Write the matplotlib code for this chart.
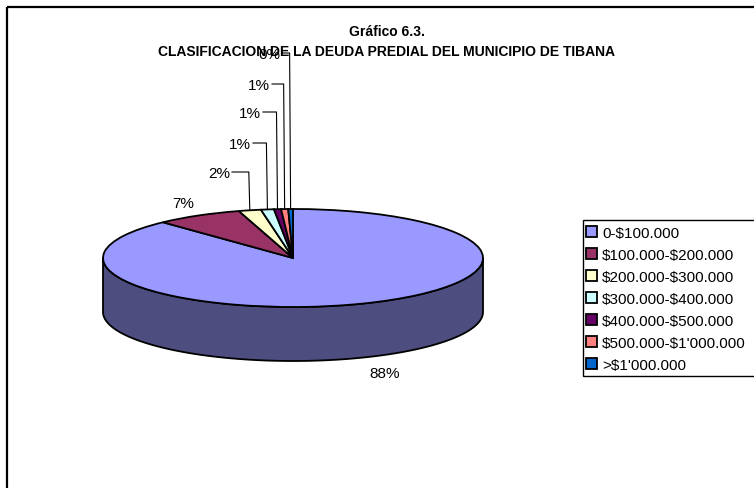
import matplotlib
matplotlib.use('Agg')
import matplotlib.pyplot as plt
import numpy as np
from matplotlib.patches import Wedge, Polygon, Rectangle
from matplotlib.transforms import Affine2D

plt.rcParams['font.family'] = ['Liberation Sans', 'DejaVu Sans']
plt.rcParams['text.parse_math'] = False

rangos = ['0-$100.000', '$100.000-$200.000', '$200.000-$300.000', '$300.000-$400.000',
          '$400.000-$500.000', "$500.000-$1'000.000", ">$1'000.000"]
porcentajes = [88.0, 7.4, 1.9, 1.1, 0.6, 0.6, 0.4]
colores = ['#9999FF', '#993366', '#FFFFCC', '#CCFFFF', '#660066', '#FF8080', '#0066CC']

titulo1 = 'Gráfico 6.3.'
titulo2 = 'CLASIFICACION DE LA DEUDA PREDIAL DEL MUNICIPIO DE TIBANA'

fig = plt.figure(figsize=(7.54, 4.89), dpi=100)
ax = fig.add_axes([0, 0, 1, 1])
ax.set_xlim(0, 754)
ax.set_ylim(489, 0)
ax.axis('off')

# marco del grafico (solo se ve arriba y a la izquierda)
ax.plot([7, 760], [8, 8], color='black', lw=1.6, solid_capstyle='butt')
ax.plot([7, 7], [8, 495], color='black', lw=1.6, solid_capstyle='butt')

ax.text(387, 32, titulo1, ha='center', va='center', fontsize=10, fontweight='bold')
ax.text(387, 52, titulo2, ha='center', va='center', fontsize=10, fontweight='bold')

# torta 3D: elipse superior + lateral
cx, cy, rx, ry, prof = 293, 259, 190, 49, 54
fr = np.array(porcentajes) / sum(porcentajes)
fin = -90 + 360 * np.cumsum(fr)
inicio = np.concatenate([[-90], fin[:-1]])
elipse = Affine2D().scale(rx, ry).translate(cx, cy) + ax.transData

for t1, t2, c in zip(inicio, fin, colores):
    a, b = max(t1, 0), min(t2, 180)
    if b > a:
        t = np.radians(np.linspace(a, b, 120))
        arriba = np.column_stack([cx + rx * np.cos(t), cy + ry * np.sin(t)])
        abajo = arriba[::-1] + [0, prof]
        oscuro = tuple(0.5 * np.array(matplotlib.colors.to_rgb(c)))
        ax.add_patch(Polygon(np.vstack([arriba, abajo]), closed=True, fc=oscuro,
                             ec='black', lw=1.3, joinstyle='round'))

cunas = []
for t1, t2, c in zip(inicio, fin, colores):
    w = Wedge((0, 0), 1, t1, t2, transform=elipse, fc=c, ec='black', lw=1.3)
    ax.add_patch(w)
    cunas.append(w)

# etiquetas de porcentaje
medio = np.radians((inicio + fin) / 2)
textos = ['%.0f%%' % p for p in porcentajes]
ax.text(385, 374, textos[0], ha='center', va='center', fontsize=11)
ax.text(183, 204, textos[1], ha='center', va='center', fontsize=11)
linea_y = [173, 144, 113, 85, 54]
linea_x = [232, 253, 263, 272, 282]
for k in range(2, len(porcentajes)):
    y0 = linea_y[k - 2]
    x0 = linea_x[k - 2]
    px = cx + rx * np.cos(medio[k])
    py = cy + ry * np.sin(medio[k])
    ax.plot([x0, px - 1, px], [y0, y0, py], color='black', lw=0.8)
    ax.text(x0 - 2, y0 + 1, textos[k], ha='right', va='center', fontsize=11)

# leyenda (el recuadro se sale por la derecha)
ax.add_patch(Rectangle((583, 221), 200, 156, fc='none', ec='black', lw=1.0))
ley = ax.legend(cunas, rangos, loc='upper left', bbox_to_anchor=(586 / 754, 1 - 227 / 489),
                bbox_transform=fig.transFigure, fontsize=11, frameon=False,
                handlelength=0.72, handleheight=0.72, handletextpad=0.33, labelspacing=0.52,
                borderpad=0, borderaxespad=0)

fig.savefig('out.png', dpi=100)
